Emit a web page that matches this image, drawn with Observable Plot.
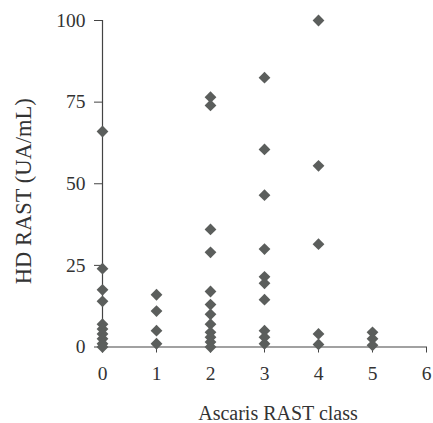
<!DOCTYPE html>
<html><head><meta charset="utf-8">
<script src="https://cdn.jsdelivr.net/npm/d3@7"></script>
<script src="https://cdn.jsdelivr.net/npm/@observablehq/plot@0.6"></script>
<style>body{margin:0;background:#fff}</style>
</head><body><div id="chart"></div>
<script>
const classes = [0, 1, 2, 3, 4, 5];
const class0 = [66, 24, 17.5, 14, 7, 5.5, 4, 2.5, 1, 0];
const class1 = [16, 11, 5, 1];
const class2 = [76.5, 74, 36, 29, 17, 13, 10, 7, 4.5, 3, 1.5, 0];
const class3 = [82.5, 60.5, 46.5, 30, 21.5, 19.5, 14.5, 5, 3, 1];
const class4 = [100, 55.5, 31.5, 4, 0.8];
const class5 = [4.5, 2.5, 0.5];
const xTicks = [0, 1, 2, 3, 4, 5, 6];
const yTicks = [0, 25, 50, 75, 100];
const xTitle = "Ascaris RAST class";
const yTitle = "HD RAST (UA/mL)";

const series = [class0, class1, class2, class3, class4, class5];
const data = classes.flatMap((c, i) => series[i].map(v => ({cls: c, v})));

const chart = Plot.plot({
  width: 433, height: 423,
  marginLeft: 102, marginRight: 7, marginTop: 20, marginBottom: 76.5,
  style: {fontFamily: "'Liberation Serif', serif", fontSize: "19.5px", color: "#333", background: "#fff"},
  x: {domain: [0, 6]},
  y: {domain: [0, 100]},
  marks: [
    Plot.axisY(yTicks, {tickSize: 8, tickPadding: 9, label: null, stroke: "#444"}),
    Plot.axisX(xTicks, {tickSize: 6, tickPadding: 13, label: null, stroke: "#444"}),
    Plot.ruleX([0], {stroke: "#444", strokeWidth: 1.2}),
    Plot.ruleY([0], {stroke: "#444", strokeWidth: 1.2}),
    Plot.dot(data, {x: "cls", y: "v", symbol: "square", rotate: 45, r: 4.7, fill: "#5b5e5c", stroke: "none"}),
    Plot.text([xTitle], {text: d => d, frameAnchor: "bottom", textAnchor: "middle", lineAnchor: "middle", dx: 13.5, dy: 67, fontSize: 20, fill: "#333"}),
    Plot.text([yTitle], {text: d => d, frameAnchor: "left", textAnchor: "middle", lineAnchor: "middle", rotate: -90, dx: -79, dy: 7.5, fontSize: 22.5, fill: "#333"})
  ]
});
document.getElementById("chart").appendChild(chart);
</script>
</body></html>
